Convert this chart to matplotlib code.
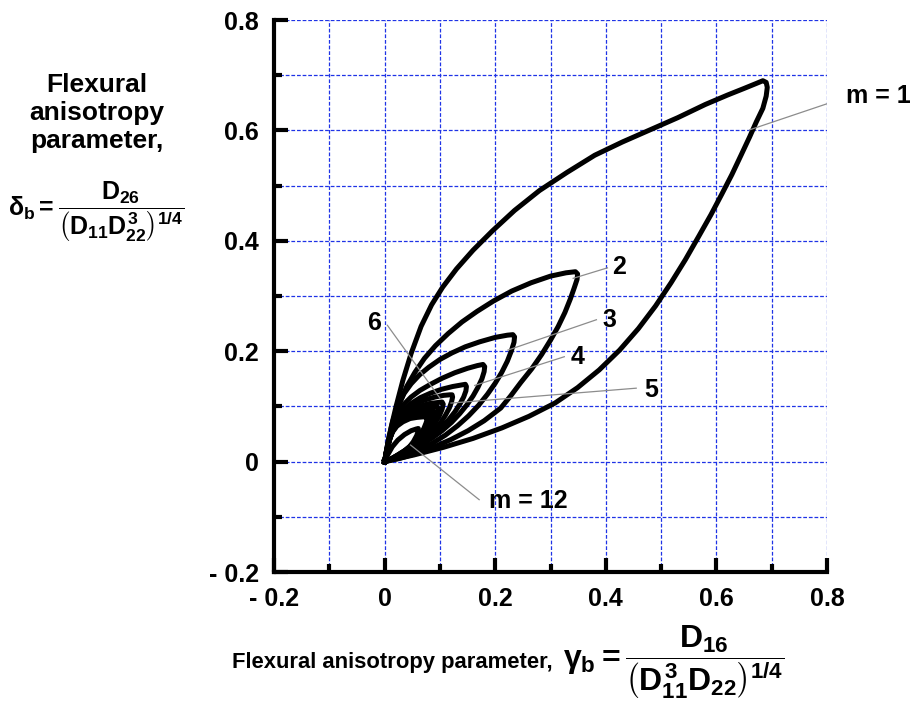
import matplotlib
matplotlib.use("Agg")
import matplotlib.pyplot as plt
from matplotlib.ticker import MultipleLocator

plt.rcParams["font.family"] = "Liberation Sans"
plt.rcParams["font.weight"] = "bold"
plt.rcParams["mathtext.fontset"] = "custom"
plt.rcParams["mathtext.rm"] = "Liberation Sans:bold"
plt.rcParams["mathtext.it"] = "Liberation Sans:bold"
plt.rcParams["mathtext.bf"] = "Liberation Sans:bold"
plt.rcParams["mathtext.sf"] = "Liberation Sans:bold"

# closed loops (origin -> upper branch -> tip -> lower branch -> origin)
m1_x = [0, 0.005, 0.012, 0.021, 0.033, 0.048, 0.066, 0.085, 0.105, 0.13, 0.16, 0.195, 0.235,
        0.28, 0.33, 0.38, 0.43, 0.48, 0.53, 0.58, 0.62, 0.65, 0.672, 0.684,
        0.69, 0.692, 0.69, 0.684, 0.672, 0.66, 0.645, 0.628, 0.61, 0.59, 0.568, 0.544, 0.518,
        0.49, 0.459, 0.425, 0.388, 0.349, 0.308, 0.261, 0.212, 0.16, 0.107, 0.053, 0]
m1_y = [0, 0.028, 0.063, 0.101, 0.147, 0.196, 0.245, 0.284, 0.316, 0.349, 0.383, 0.418, 0.455,
        0.491, 0.524, 0.555, 0.579, 0.601, 0.623, 0.647, 0.664, 0.676, 0.685, 0.69,
        0.687, 0.678, 0.662, 0.64, 0.615, 0.588, 0.556, 0.52, 0.485, 0.447, 0.408, 0.366, 0.324,
        0.282, 0.241, 0.202, 0.166, 0.134, 0.106, 0.082, 0.061, 0.042, 0.026, 0.012, 0]

m2_x = [0, 0.004, 0.01, 0.018, 0.028, 0.04, 0.055, 0.072, 0.092, 0.115, 0.14, 0.167, 0.197,
        0.23, 0.265, 0.3, 0.328, 0.345,
        0.349, 0.348, 0.343, 0.336, 0.326, 0.314, 0.3, 0.284, 0.266, 0.246, 0.228, 0.21, 0.18,
        0.151, 0.12, 0.088, 0.058, 0.028, 0]
m2_y = [0, 0.02, 0.048, 0.079, 0.108, 0.136, 0.162, 0.187, 0.21, 0.232, 0.253, 0.272, 0.291,
        0.309, 0.324, 0.336, 0.342, 0.344,
        0.34, 0.33, 0.315, 0.295, 0.27, 0.245, 0.22, 0.194, 0.168, 0.143, 0.119, 0.097, 0.074,
        0.056, 0.04, 0.026, 0.015, 0.006, 0]

m3_x = [0, 0.003, 0.008, 0.015, 0.024, 0.035, 0.048, 0.063, 0.08, 0.1, 0.122, 0.146, 0.172,
        0.2, 0.222, 0.232,
        0.235, 0.234, 0.229, 0.222, 0.212, 0.2, 0.186, 0.17, 0.152, 0.132, 0.11, 0.086, 0.06,
        0.032, 0]
m3_y = [0, 0.018, 0.045, 0.074, 0.1, 0.123, 0.141, 0.157, 0.171, 0.185, 0.197, 0.208, 0.217,
        0.225, 0.229, 0.23,
        0.226, 0.216, 0.2, 0.182, 0.162, 0.142, 0.122, 0.102, 0.083, 0.065, 0.048, 0.033, 0.02,
        0.009, 0]

m4_x = [0, 0.003, 0.008, 0.015, 0.024, 0.035, 0.048, 0.064, 0.083, 0.104, 0.127, 0.15, 0.168,
        0.178,
        0.181, 0.18, 0.176, 0.169, 0.16, 0.149, 0.136, 0.121, 0.104, 0.085, 0.064, 0.042, 0.02, 0]
m4_y = [0, 0.017, 0.041, 0.066, 0.087, 0.104, 0.117, 0.129, 0.14, 0.151, 0.161, 0.169, 0.174,
        0.176,
        0.172, 0.163, 0.15, 0.135, 0.119, 0.103, 0.087, 0.071, 0.056, 0.042, 0.029, 0.017, 0.007, 0]

m5_x = [0, 0.003, 0.008, 0.015, 0.024, 0.035, 0.049, 0.065, 0.083, 0.103, 0.123, 0.14, 0.146,
        0.148, 0.147, 0.143, 0.136, 0.127, 0.116, 0.103, 0.088, 0.071, 0.052, 0.032, 0.015, 0]
m5_y = [0, 0.016, 0.039, 0.061, 0.079, 0.094, 0.106, 0.116, 0.124, 0.131, 0.136, 0.139, 0.14,
        0.136, 0.128, 0.117, 0.104, 0.09, 0.076, 0.062, 0.048, 0.035, 0.023, 0.012, 0.005, 0]

m6_x = [0, 0.003, 0.008, 0.014, 0.022, 0.032, 0.044, 0.058, 0.074, 0.091, 0.107, 0.118, 0.122,
        0.123, 0.121, 0.117, 0.11, 0.101, 0.09, 0.077, 0.062, 0.046, 0.029, 0.013, 0]
m6_y = [0, 0.015, 0.036, 0.056, 0.073, 0.087, 0.098, 0.106, 0.112, 0.117, 0.12, 0.121, 0.121,
        0.117, 0.108, 0.097, 0.084, 0.07, 0.056, 0.043, 0.031, 0.02, 0.011, 0.004, 0]

m7_x = [0, 0.004, 0.01, 0.018, 0.03, 0.045, 0.062, 0.08, 0.096, 0.104,
        0.106, 0.104, 0.099, 0.091, 0.08, 0.066, 0.05, 0.032, 0.015, 0]
m7_y = [0, 0.02, 0.045, 0.066, 0.082, 0.093, 0.1, 0.105, 0.107, 0.108,
        0.104, 0.095, 0.083, 0.069, 0.055, 0.041, 0.028, 0.016, 0.006, 0]

m8_x = [0, 0.004, 0.01, 0.017, 0.028, 0.042, 0.058, 0.074, 0.088, 0.095,
        0.097, 0.095, 0.09, 0.082, 0.072, 0.06, 0.045, 0.029, 0.013, 0]
m8_y = [0, 0.019, 0.043, 0.062, 0.077, 0.087, 0.093, 0.097, 0.099, 0.1,
        0.096, 0.087, 0.076, 0.063, 0.05, 0.037, 0.025, 0.014, 0.005, 0]

m9_x = [0, 0.004, 0.009, 0.016, 0.026, 0.039, 0.054, 0.068, 0.081, 0.088,
        0.09, 0.088, 0.083, 0.076, 0.067, 0.055, 0.042, 0.027, 0.012, 0]
m9_y = [0, 0.018, 0.041, 0.059, 0.072, 0.081, 0.087, 0.09, 0.092, 0.093,
        0.089, 0.081, 0.07, 0.058, 0.046, 0.034, 0.023, 0.013, 0.005, 0]

m10_x = [0, 0.003, 0.008, 0.015, 0.024, 0.036, 0.05, 0.063, 0.075, 0.081,
         0.083, 0.081, 0.077, 0.07, 0.061, 0.051, 0.038, 0.024, 0.011, 0]
m10_y = [0, 0.017, 0.039, 0.056, 0.068, 0.077, 0.083, 0.086, 0.087, 0.087,
         0.083, 0.075, 0.065, 0.054, 0.042, 0.031, 0.021, 0.012, 0.004, 0]

m11_x = [0, 0.003, 0.008, 0.014, 0.022, 0.033, 0.046, 0.058, 0.069, 0.075,
         0.077, 0.075, 0.071, 0.064, 0.056, 0.046, 0.035, 0.022, 0.01, 0]
m11_y = [0, 0.016, 0.037, 0.053, 0.064, 0.072, 0.078, 0.08, 0.081, 0.081,
         0.077, 0.07, 0.06, 0.049, 0.038, 0.028, 0.019, 0.011, 0.004, 0]

m12_x = [0, 0.006, 0.014, 0.024, 0.036, 0.048, 0.057, 0.061,
         0.061, 0.058, 0.052, 0.043, 0.031, 0.016, 0]
m12_y = [0, 0.013, 0.027, 0.039, 0.049, 0.056, 0.059, 0.06,
         0.056, 0.047, 0.036, 0.024, 0.013, 0.005, 0]

loops = [(m1_x, m1_y), (m2_x, m2_y), (m3_x, m3_y), (m4_x, m4_y), (m5_x, m5_y), (m6_x, m6_y),
         (m7_x, m7_y), (m8_x, m8_y), (m9_x, m9_y), (m10_x, m10_y), (m11_x, m11_y), (m12_x, m12_y)]

# curve labels: text, point on curve, end of leader, text anchor, alignment
labels = ["m = 1", "2", "3", "4", "5", "6", "m = 12"]
leader_from = [(0.66, 0.601), (0.341, 0.332), (0.223, 0.202), (0.163, 0.138),
               (0.12, 0.106), (0.1, 0.115), (0.047, 0.03)]
leader_to = [(0.82, 0.655), (0.403, 0.351), (0.383, 0.257), (0.325, 0.19),
             (0.455, 0.133), (0.005, 0.247), (0.171, -0.069)]
label_at = [(0.835, 0.663), (0.412, 0.352), (0.394, 0.257), (0.337, 0.19),
            (0.47, 0.13), (-0.006, 0.251), (0.189, -0.071)]
label_ha = ["left", "left", "left", "left", "left", "right", "left"]

tick_vals = [-0.2, 0, 0.2, 0.4, 0.6, 0.8]
tick_text = ["- 0.2", "0", "0.2", "0.4", "0.6", "0.8"]

fig = plt.figure(figsize=(9.13, 7.15), dpi=100)
ax = fig.add_axes([274 / 913, 143 / 715, 553 / 913, 552 / 715])

for lx, ly in loops:
    ax.plot(lx, ly, color="black", lw=3.6, solid_joinstyle="round", zorder=3)

for txt, p0, p1, pt, ha in zip(labels, leader_from, leader_to, label_at, label_ha):
    ax.plot([p0[0], p1[0]], [p0[1], p1[1]], color="#8c8c8c", lw=0.9, zorder=4)
    ax.text(pt[0], pt[1], txt, ha=ha, va="center", fontsize=18, fontweight="bold", zorder=5)

ax.set_xlim(-0.2, 0.8)
ax.set_ylim(-0.2, 0.8)
ax.set_xticks(tick_vals)
ax.set_xticklabels(tick_text)
ax.set_yticks(tick_vals)
ax.set_yticklabels(tick_text)
ax.xaxis.set_minor_locator(MultipleLocator(0.1))
ax.yaxis.set_minor_locator(MultipleLocator(0.1))
ax.tick_params(which="both", direction="in", width=3, top=False, right=False)
ax.tick_params(which="major", length=10, pad=11, labelsize=18)
ax.tick_params(which="minor", length=5.5)
for lab in ax.get_xticklabels() + ax.get_yticklabels():
    lab.set_fontweight("bold")

ax.spines["top"].set_visible(False)
ax.spines["right"].set_visible(False)
ax.spines["left"].set_linewidth(3)
ax.spines["bottom"].set_linewidth(3)
ax.set_axisbelow(True)
ax.grid(True, which="both", color="#1f33e6", ls=(0, (3, 1.5)), lw=0.9)

fig.text(97 / 913, 1 - 113 / 715, "Flexural\nanisotropy\nparameter,", ha="center", va="center",
         fontsize=19, fontweight="bold", linespacing=1.2)
fig.text(8 / 913, 1 - 216 / 715,
         r"$\delta_b = \dfrac{D_{26}}{\left(D_{11}D^3_{22}\right)^{1/4}}$",
         ha="left", va="baseline", fontsize=18)
fig.text(232 / 913, 1 - 668 / 715, "Flexural anisotropy parameter,",
         ha="left", va="baseline", fontsize=15.8, fontweight="bold")
fig.text(563 / 913, 1 - 668 / 715,
         r"$\gamma_b = \dfrac{D_{16}}{\left(D^3_{11}D_{22}\right)^{1/4}}$",
         ha="left", va="baseline", fontsize=23)

fig.savefig("out.png", dpi=100)
